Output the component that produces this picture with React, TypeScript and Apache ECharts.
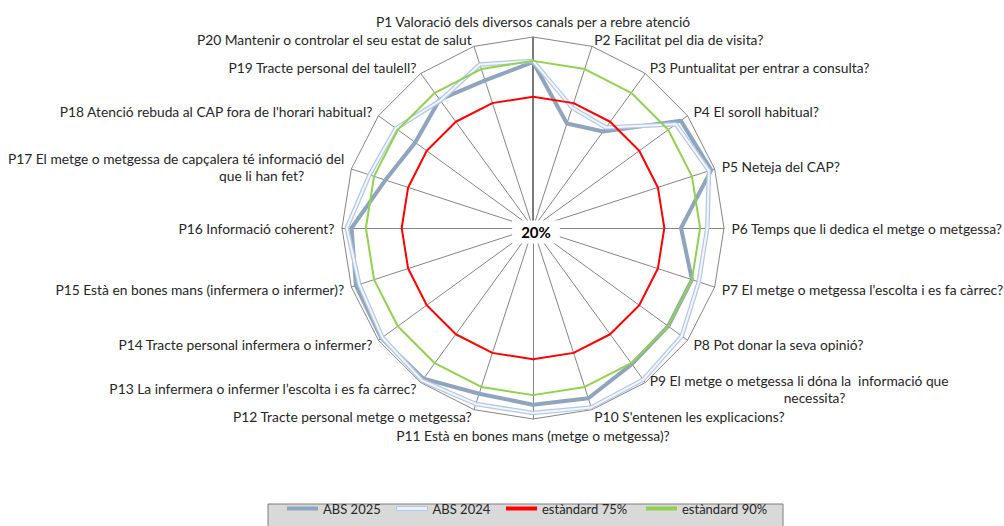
import React, { useEffect, useRef } from "react";
import * as echarts from "echarts";

const questions = [
  "P1 Valoració dels diversos canals per a rebre atenció",
  "P2 Facilitat pel dia de visita?",
  "P3 Puntualitat per entrar a consulta?",
  "P4 El soroll habitual?",
  "P5 Neteja del CAP?",
  "P6 Temps que li dedica el metge o metgessa?",
  "P7 El metge o metgessa l'escolta i es fa càrrec?",
  "P8 Pot donar la seva opinió?",
  "P9 El metge o metgessa li dóna la  informació que\nnecessita?",
  "P10 S'entenen les explicacions?",
  "P11 Està en bones mans (metge o metgessa)?",
  "P12 Tracte personal metge o metgessa?",
  "P13 La infermera o infermer l’escolta i es fa càrrec?",
  "P14 Tracte personal infermera o infermer?",
  "P15 Està en bones mans (infermera o infermer)?",
  "P16 Informació coherent?",
  "P17 El metge o metgessa de capçalera té informació del\nque li han fet?",
  "P18 Atenció rebuda al CAP fora de l'horari habitual?",
  "P19 Tracte personal del taulell?",
  "P20 Mantenir o controlar el seu estat de salut",
];

const abs2025 = [89.5, 66, 70, 96.5, 98.5, 82, 90, 90, 90.5, 95, 94, 93, 98, 98.5, 98, 96, 85, 81, 86.5, 85];
const abs2024 = [90, 73, 72, 94, 97.5, 93, 93, 97, 98.5, 99, 97.5, 97.5, 99, 98, 96.5, 98, 92, 91, 86, 92];
const std75 = [75, 75, 75, 75, 75, 75, 75, 75, 75, 75, 75, 75, 75, 75, 75, 75, 75, 75, 75, 75];
const std90 = [90, 90, 90, 90, 90, 90, 90, 90, 90, 90, 90, 90, 90, 90, 90, 90, 90, 90, 90, 90];

const axisMin = 20;
const axisMax = 100;
const centerLabel = "20%";
const legendNames = ["ABS 2025", "ABS 2024", "estàndard 75%", "estàndard 90%"];
const legendLefts = [287, 396, 506, 646];

const FONT = "Lato, 'Liberation Sans', sans-serif";
const CX = 533;
const CY = 228;
const R = 191;

// ECharts lays radar indicators counter-clockwise; reorder so P1..P20 run clockwise
const order = [0, 19, 18, 17, 16, 15, 14, 13, 12, 11, 10, 9, 8, 7, 6, 5, 4, 3, 2, 1];
const reorder = (arr: any[]) => order.map((i) => arr[i]);

export default function App() {
  const ref = useRef<HTMLDivElement>(null);
  useEffect(() => {
    if (!ref.current) return;
    const chart = echarts.init(ref.current, undefined, { renderer: "svg" });
    const textBase = { fontFamily: FONT, fontSize: 13.8, color: "#262626", lineHeight: 17 };
    chart.setOption({
      animation: false,
      backgroundColor: "#ffffff",
      legend: legendNames.map((n, i) => ({
        data: [
          i === 1
            ? { name: n, itemStyle: { color: "#edf2fa", borderColor: "#b4c7e7", borderWidth: 1 } }
            : { name: n },
        ],
        left: legendLefts[i],
        top: 502,
        icon: "rect",
        itemWidth: 31,
        itemHeight: 4,
        padding: 0,
        textStyle: { fontFamily: FONT, fontSize: 13, color: "#262626" },
      })),
      radar: {
        center: [CX, CY],
        radius: R,
        startAngle: 90,
        shape: "polygon",
        splitNumber: 1,
        axisNameGap: 7.5,
        indicator: reorder(questions).map((q) => ({ name: q, min: axisMin, max: axisMax })),
        axisName: {
          ...textBase,
          formatter: (name: string) => {
            if (name.indexOf("\n") < 0) return name;
            const [a, b] = name.split("\n");
            return name.startsWith("P9")
              ? `{l9|${a}}\n{s9|${b}}`
              : `{l17|${a}}\n{s17|${b}}`;
          },
          rich: {
            l9: { ...textBase, align: "left" },
            s9: { ...textBase, align: "left", padding: [0, 0, 0, 134] },
            l17: { ...textBase, align: "right" },
            s17: { ...textBase, align: "right", padding: [0, 40, 0, 0] },
          },
        },
        splitLine: { lineStyle: { color: "#868686", width: 1 } },
        splitArea: { show: false },
        axisLine: { lineStyle: { color: "#868686", width: 1 } },
        axisTick: { show: false },
        axisLabel: { show: false },
      },
      graphic: [
        {
          type: "rect",
          z: 0,
          shape: { x: 268, y: 504, width: 515, height: 40 },
          style: { fill: "#d9d9d9", stroke: "#7f7f7f", lineWidth: 1 },
        },
        {
          type: "line",
          z: 1,
          shape: { x1: CX, y1: CY, x2: CX, y2: CY - R },
          style: { stroke: "#7a7a7a", lineWidth: 2 },
        },
        {
          type: "text",
          z: 100,
          x: CX + 3,
          y: CY + 4,
          style: {
            text: centerLabel,
            fontFamily: FONT,
            fontSize: 15,
            fontWeight: "bold",
            fill: "#000000",
            align: "center",
            verticalAlign: "middle",
            backgroundColor: "#ffffff",
            padding: [4, 9, 4, 9],
          },
        },
      ],
      series: [
        {
          type: "radar",
          symbol: "none",
          data: [
            {
              name: "ABS 2025",
              value: reorder(abs2025),
              lineStyle: { color: "#8fa5be", width: 4, join: "round" },
              itemStyle: { color: "#8fa5be" },
            },
            {
              name: "ABS 2024",
              value: reorder(abs2024),
              lineStyle: { color: "#b4c7e7", width: 4.5, join: "round" },
              itemStyle: { color: "#b4c7e7" },
            },
            {
              name: "ABS 2024 (interior)",
              value: reorder(abs2024),
              lineStyle: { color: "#f4f7fc", width: 2, join: "round" },
              itemStyle: { color: "#f4f7fc" },
            },
            {
              name: "estàndard 75%",
              value: reorder(std75),
              lineStyle: { color: "#ff0000", width: 2 },
              itemStyle: { color: "#ff0000" },
            },
            {
              name: "estàndard 90%",
              value: reorder(std90),
              lineStyle: { color: "#92d050", width: 2 },
              itemStyle: { color: "#92d050" },
            },
          ],
        },
      ],
    });
    return () => chart.dispose();
  }, []);
  return (
    <div
      ref={ref}
      style={{ position: "fixed", left: 0, top: 0, width: 1004, height: 526 }}
    />
  );
}
